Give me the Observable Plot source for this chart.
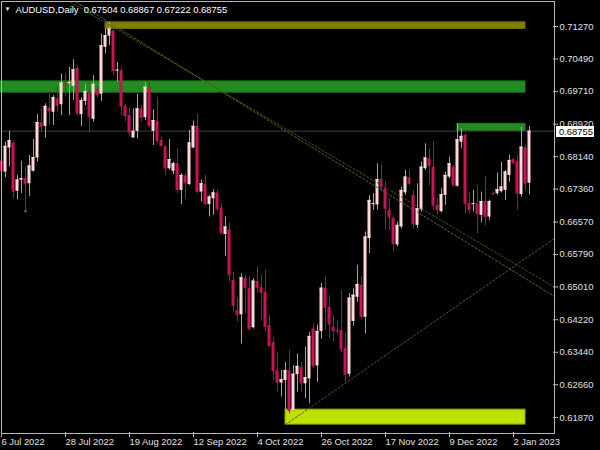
<!DOCTYPE html>
<html><head><meta charset="utf-8">
<script src="https://cdn.jsdelivr.net/npm/d3@7"></script>
<script src="https://cdn.jsdelivr.net/npm/@observablehq/plot@0.6"></script>
<style>html,body{margin:0;padding:0;background:#000;}#chart{width:600px;height:450px;}</style>
</head><body><div id="chart"></div>
<script>
const symbol = "AUDUSD";
const period = "Daily";
const dates = [
"2022-07-06","2022-07-07","2022-07-08","2022-07-11","2022-07-12","2022-07-13","2022-07-14","2022-07-15","2022-07-18","2022-07-19",
"2022-07-20","2022-07-21","2022-07-22","2022-07-25","2022-07-26","2022-07-27","2022-07-28","2022-07-29","2022-08-01","2022-08-02",
"2022-08-03","2022-08-04","2022-08-05","2022-08-08","2022-08-09","2022-08-10","2022-08-11","2022-08-12","2022-08-15","2022-08-16",
"2022-08-17","2022-08-18","2022-08-19","2022-08-22","2022-08-23","2022-08-24","2022-08-25","2022-08-26","2022-08-29","2022-08-30",
"2022-08-31","2022-09-01","2022-09-02","2022-09-05","2022-09-06","2022-09-07","2022-09-08","2022-09-09","2022-09-12","2022-09-13",
"2022-09-14","2022-09-15","2022-09-16","2022-09-19","2022-09-20","2022-09-21","2022-09-22","2022-09-23","2022-09-26","2022-09-27",
"2022-09-28","2022-09-29","2022-09-30","2022-10-03","2022-10-04","2022-10-05","2022-10-06","2022-10-07","2022-10-10","2022-10-11",
"2022-10-12","2022-10-13","2022-10-14","2022-10-17","2022-10-18","2022-10-19","2022-10-20","2022-10-21","2022-10-24","2022-10-25",
"2022-10-26","2022-10-27","2022-10-28","2022-10-31","2022-11-01","2022-11-02","2022-11-03","2022-11-04","2022-11-07","2022-11-08",
"2022-11-09","2022-11-10","2022-11-11","2022-11-14","2022-11-15","2022-11-16","2022-11-17","2022-11-18","2022-11-21","2022-11-22",
"2022-11-23","2022-11-24","2022-11-25","2022-11-28","2022-11-29","2022-11-30","2022-12-01","2022-12-02","2022-12-05","2022-12-06",
"2022-12-07","2022-12-08","2022-12-09","2022-12-12","2022-12-13","2022-12-14","2022-12-15","2022-12-16","2022-12-19","2022-12-20",
"2022-12-21","2022-12-22","2022-12-23","2022-12-26","2022-12-27","2022-12-28","2022-12-29","2022-12-30","2023-01-02","2023-01-03",
"2023-01-04","2023-01-05","2023-01-06"];
const open = [
0.6803,0.6777,0.6835,0.6847,0.6731,0.6758,0.6761,0.6749,0.6779,0.6811,
0.6895,0.6887,0.6931,0.6921,0.6953,0.6939,0.6991,0.6990,0.6983,0.7026,
0.6915,0.6947,0.6967,0.6904,0.6976,0.6964,0.7077,0.7104,0.7116,0.7021,
0.7021,0.6935,0.6913,0.6859,0.6875,0.6929,0.6908,0.6980,0.6875,0.6899,
0.6853,0.6838,0.6785,0.6779,0.6797,0.6733,0.6768,0.6747,0.6835,0.6887,
0.6729,0.6747,0.6699,0.6713,0.6727,0.6691,0.6627,0.6638,0.6517,0.6444,
0.6434,0.6521,0.6497,0.6403,0.6514,0.6499,0.6488,0.6408,0.6367,0.6300,
0.6270,0.6276,0.6299,0.6204,0.6290,0.6307,0.6268,0.6280,0.6400,0.6311,
0.6394,0.6498,0.6452,0.6404,0.6397,0.6396,0.6354,0.6291,0.6418,0.6476,
0.6505,0.6428,0.6617,0.6700,0.6698,0.6759,0.6737,0.6685,0.6666,0.6602,
0.6645,0.6727,0.6763,0.6721,0.6649,0.6686,0.6785,0.6809,0.6789,0.6697,
0.6682,0.6721,0.6765,0.6789,0.6743,0.6849,0.6865,0.6701,0.6700,0.6701,
0.6673,0.6706,0.6669,0.6726,0.6725,0.6730,0.6733,0.6769,0.6807,0.6803,
0.6723,0.6835,0.67504];
const high = [
0.6825,0.6849,0.6875,0.6849,0.6769,0.6803,0.6789,0.6817,0.6855,0.6915,
0.6929,0.6941,0.6964,0.6961,0.6981,0.7013,0.7013,0.7029,0.7047,0.7033,
0.6955,0.6989,0.6973,0.7009,0.6981,0.7109,0.7121,0.7137,0.7123,0.7041,
0.7029,0.6941,0.6931,0.6929,0.6964,0.6937,0.6993,0.6997,0.6927,0.6957,
0.6861,0.6841,0.6855,0.6801,0.6833,0.6773,0.6773,0.6877,0.6900,0.6917,
0.6758,0.6769,0.6721,0.6735,0.6733,0.6701,0.6670,0.6654,0.6537,0.6476,
0.6533,0.6529,0.6525,0.6521,0.6549,0.6529,0.6541,0.6432,0.6380,0.6344,
0.6300,0.6319,0.6348,0.6312,0.6340,0.6320,0.6356,0.6392,0.6412,0.6409,
0.6509,0.6525,0.6480,0.6432,0.6418,0.6492,0.6392,0.6485,0.6497,0.6553,
0.6525,0.6633,0.6721,0.6725,0.6797,0.6793,0.6753,0.6713,0.6673,0.6657,
0.6741,0.6781,0.6781,0.6733,0.6749,0.6801,0.6845,0.6833,0.6849,0.6713,
0.6737,0.6777,0.6813,0.6793,0.6893,0.6881,0.6869,0.6729,0.6733,0.6745,
0.6729,0.6767,0.6709,0.6729,0.6775,0.6801,0.6781,0.6818,0.6810,0.6818,
0.6885,0.6843,0.68867];
const low = [
0.6761,0.6763,0.6789,0.6714,0.6710,0.6725,0.6683,0.6718,0.6777,0.6801,
0.6873,0.6859,0.6891,0.6889,0.6921,0.6913,0.6957,0.6913,0.6949,0.6913,
0.6887,0.6937,0.6871,0.6897,0.6957,0.6947,0.7061,0.7081,0.7009,0.6993,
0.6913,0.6899,0.6861,0.6859,0.6857,0.6897,0.6901,0.6885,0.6841,0.6845,
0.6837,0.6769,0.6781,0.6771,0.6726,0.6699,0.6713,0.6745,0.6833,0.6726,
0.6705,0.6697,0.6669,0.6673,0.6681,0.6627,0.6574,0.6513,0.6440,0.6417,
0.6364,0.6436,0.6396,0.6400,0.6485,0.6419,0.6393,0.6356,0.6276,0.6248,
0.6236,0.6170,0.6196,0.6200,0.6248,0.6248,0.6232,0.6220,0.6304,0.6272,
0.6375,0.6396,0.6376,0.6368,0.6388,0.6344,0.6272,0.6284,0.6407,0.6464,
0.6424,0.6388,0.6581,0.6685,0.6686,0.6729,0.6637,0.6637,0.6585,0.6597,
0.6641,0.6721,0.6745,0.6641,0.6641,0.6681,0.6781,0.6745,0.6685,0.6673,
0.6679,0.6697,0.6761,0.6741,0.6741,0.6833,0.6677,0.6677,0.6681,0.6629,
0.6655,0.6649,0.6661,0.6722,0.6721,0.6727,0.6709,0.6753,0.6795,0.6685,
0.6717,0.6733,0.67222];
const close = [
0.6781,0.6839,0.6853,0.6731,0.6758,0.6761,0.6749,0.6792,0.6812,0.6896,
0.6887,0.6935,0.6924,0.6956,0.6937,0.6991,0.6988,0.6992,0.7023,0.6919,
0.6949,0.6971,0.6911,0.6988,0.6963,0.7081,0.7105,0.7121,0.7021,0.7022,
0.6935,0.6913,0.6873,0.6875,0.6929,0.6908,0.6981,0.6889,0.6901,0.6853,
0.6841,0.6787,0.6807,0.6797,0.6735,0.6769,0.6751,0.6847,0.6887,0.6730,
0.6749,0.6701,0.6717,0.6727,0.6689,0.6631,0.6645,0.6530,0.6456,0.6435,
0.6523,0.6500,0.6400,0.6515,0.6500,0.6488,0.6406,0.6360,0.6300,0.6272,
0.6278,0.6300,0.6204,0.6291,0.6310,0.6270,0.6283,0.6382,0.6312,0.6394,
0.6498,0.6452,0.6412,0.6396,0.6395,0.6352,0.6291,0.6474,0.6481,0.6507,
0.6430,0.6621,0.6709,0.6701,0.6759,0.6741,0.6689,0.6669,0.6605,0.6649,
0.6733,0.6765,0.6750,0.6653,0.6689,0.6789,0.6811,0.6793,0.6697,0.6687,
0.6723,0.6769,0.6797,0.6746,0.6855,0.6863,0.6701,0.6687,0.6701,0.6677,
0.6706,0.6670,0.6706,0.6725,0.6735,0.6741,0.6777,0.6805,0.6799,0.6726,
0.6837,0.6750,0.68755];

const yTicks = [0.71270,0.70490,0.69710,0.68920,0.68140,0.67360,0.66570,0.65790,0.65010,0.64220,0.63440,0.62660,0.61870];
const xTickDates = ["2022-07-06","2022-07-28","2022-08-19","2022-09-12","2022-10-04","2022-10-26","2022-11-17","2022-12-09","2023-01-02"];
const xTickLabels = ["6 Jul 2022","28 Jul 2022","19 Aug 2022","12 Sep 2022","4 Oct 2022","26 Oct 2022","17 Nov 2022","9 Dec 2022","2 Jan 2023"];

// rectangles (zones)
const zoneStart = ["2022-08-11", null, "2022-12-13", "2022-10-13"];
const zoneEnd = ["2023-01-05", "2023-01-05", "2023-01-05", "2023-01-05"];
const zoneTop = [0.7137, 0.6995, 0.6893, 0.6206];
const zoneBottom = [0.7121, 0.6968, 0.6876, 0.6170];

// trend lines: two anchor points each
const trendDateA = ["2022-08-11", "2022-08-11", "2022-10-13"];
const trendPriceA = [0.7136, 0.7142, 0.6170];
const trendDateB = ["2023-01-06", "2023-01-06", "2023-01-06"];
const trendPriceB = [0.6536, 0.6515, 0.6576];
const trendBothWays = [true, true, false];

// object anchor points
const anchorDates = ["2022-07-14"];
const anchorPrices = [0.6683];

// ---- styles ----
const zoneFill = ["#808000", "#228b22", "#228b22", "#bedf00"];
const zoneStroke = ["#6e6e00", "#1d7a1d", "#1d7a1d", "#8fa800"];
const trendStroke = ["#2a6018", "#66620f", "#585810"];
const bullBody = "#ffd8d8", bearBody = "#cb1259";
const bullWick = "#a8a0a0", bearWick = "#a8104a";
const fg = "#e0e0e0";
const font = "'Liberation Sans', Arial, sans-serif";

const idx = d => { const k = dates.indexOf(d); return k < 0 ? -6 : k; };
const bars = dates.map((d, i) => ({i, o: open[i], h: high[i], l: low[i], c: close[i], up: close[i] >= open[i]}));
const last = bars[bars.length - 1];

const W = 600, H = 450, mL = 1, mR = 46, mT = 1, mB = 17;
const xDomain = [0, (W - mR - mL) / 4];
const pxPerUnit = 4160;
const yDomain = [0.71270 - (H - mB - 26) / pxPerUnit, 0.71270 + (26 - mT) / pxPerUnit];

const zoneMarks = zoneTop.map((t, k) => Plot.rect([k], {
  x1: () => idx(zoneStart[k]), x2: () => idx(zoneEnd[k]),
  y1: () => zoneBottom[k], y2: () => t,
  fill: zoneFill[k], stroke: zoneStroke[k], strokeWidth: 1
}));

const trendMarks = trendPriceA.map((pa, k) => {
  const xa = idx(trendDateA[k]), xb = idx(trendDateB[k]), pb = trendPriceB[k];
  const s = (pb - pa) / (xb - xa);
  const x0 = trendBothWays[k] ? xDomain[0] : xa, x1 = xDomain[1];
  const pts = [[x0, pa + s * (x0 - xa)], [x1, pa + s * (x1 - xa)]];
  return Plot.line(pts, {x: d => d[0], y: d => d[1], stroke: trendStroke[k], strokeWidth: 1, strokeDasharray: "2,2", clip: true});
});

const xTickIdx = xTickDates.map(idx);

const chart = Plot.plot({
  width: W, height: H,
  marginLeft: mL, marginRight: mR, marginTop: mT, marginBottom: mB,
  style: {background: "#000", color: fg, fontFamily: font, fontSize: "9.4px", overflow: "visible"},
  x: {type: "linear", domain: xDomain, axis: null},
  y: {type: "linear", domain: yDomain, axis: null},
  marks: [
    ...zoneMarks,
    Plot.ruleY([last.c], {stroke: "#3e3e3e"}),
    Plot.ruleX(bars, {filter: d => d.up, x: "i", y1: "l", y2: "h", stroke: bullWick}),
    Plot.ruleX(bars, {filter: d => !d.up, x: "i", y1: "l", y2: "h", stroke: bearWick}),
    Plot.rect(bars, {filter: d => d.up, x1: d => d.i - 0.375, x2: d => d.i + 0.375, y1: "o", y2: "c", fill: bullBody}),
    Plot.rect(bars, {filter: d => !d.up, x1: d => d.i - 0.375, x2: d => d.i + 0.375, y1: "o", y2: "c", fill: bearBody}),
    Plot.ruleY(bars, {filter: d => d.up, x1: d => d.i - 0.375, x2: d => d.i + 0.375, y: "c", stroke: bullBody}),
    Plot.ruleY(bars, {filter: d => !d.up, x1: d => d.i - 0.375, x2: d => d.i + 0.375, y: "c", stroke: bearBody}),
    ...trendMarks,
    Plot.dot(anchorDates.map((d, k) => [idx(d), anchorPrices[k]]), {x: d => d[0], y: d => d[1], symbol: "square", r: 1.3, fill: "#6e6e00"}),
    Plot.frame({stroke: "#b8b8b8"}),
    Plot.ruleY(yTicks, {y: d => d, insetLeft: W - mR - mL - 1, insetRight: -4, stroke: "#b8b8b8"}),
    Plot.text(yTicks, {y: d => d, text: d => d.toFixed(5), frameAnchor: "right", dx: 5, textAnchor: "start", lineAnchor: "middle", fill: fg}),
    Plot.ruleX(xTickIdx, {x: d => d, insetTop: H - mB - mT - 1, insetBottom: -4, stroke: "#b8b8b8"}),
    Plot.text(xTickIdx, {x: d => d, text: (d, k) => xTickLabels[k], frameAnchor: "bottom", dy: 5, textAnchor: "start", lineAnchor: "top", fill: fg}),
    Plot.text(["\u25BC"], {frameAnchor: "top-left", dx: 6, dy: 5, lineAnchor: "top", textAnchor: "middle", fontSize: 6, fill: "#fff"}),
    Plot.text([`${symbol},${period}\u00a0 ${last.o.toFixed(5)} ${last.h.toFixed(5)} ${last.l.toFixed(5)} ${last.c.toFixed(5)}`],
      {frameAnchor: "top-left", dx: 14, dy: 5, lineAnchor: "top", textAnchor: "start", fill: "#fff"})
  ]
});
document.getElementById("chart").appendChild(chart);

// current price label box
const yScale = d3.scaleLinear().domain(yDomain).range([H - mB, mT]);
const svg = d3.select(chart.tagName.toLowerCase() === "svg" ? chart : chart.querySelector("svg"));
const py = Math.round(yScale(last.c)) + 0.5;
const g = svg.append("g").attr("text-anchor", "start");
g.append("rect").attr("x", W - mR + 2).attr("y", py - 5.5).attr("width", 38).attr("height", 11).attr("fill", "#fff");
g.append("text").attr("x", W - mR + 5).attr("y", py).attr("dy", "0.35em").attr("fill", "#000")
  .attr("text-anchor", "start").attr("font-size", "9.4px").attr("font-family", font).text(last.c.toFixed(5));
</script>
</body></html>
